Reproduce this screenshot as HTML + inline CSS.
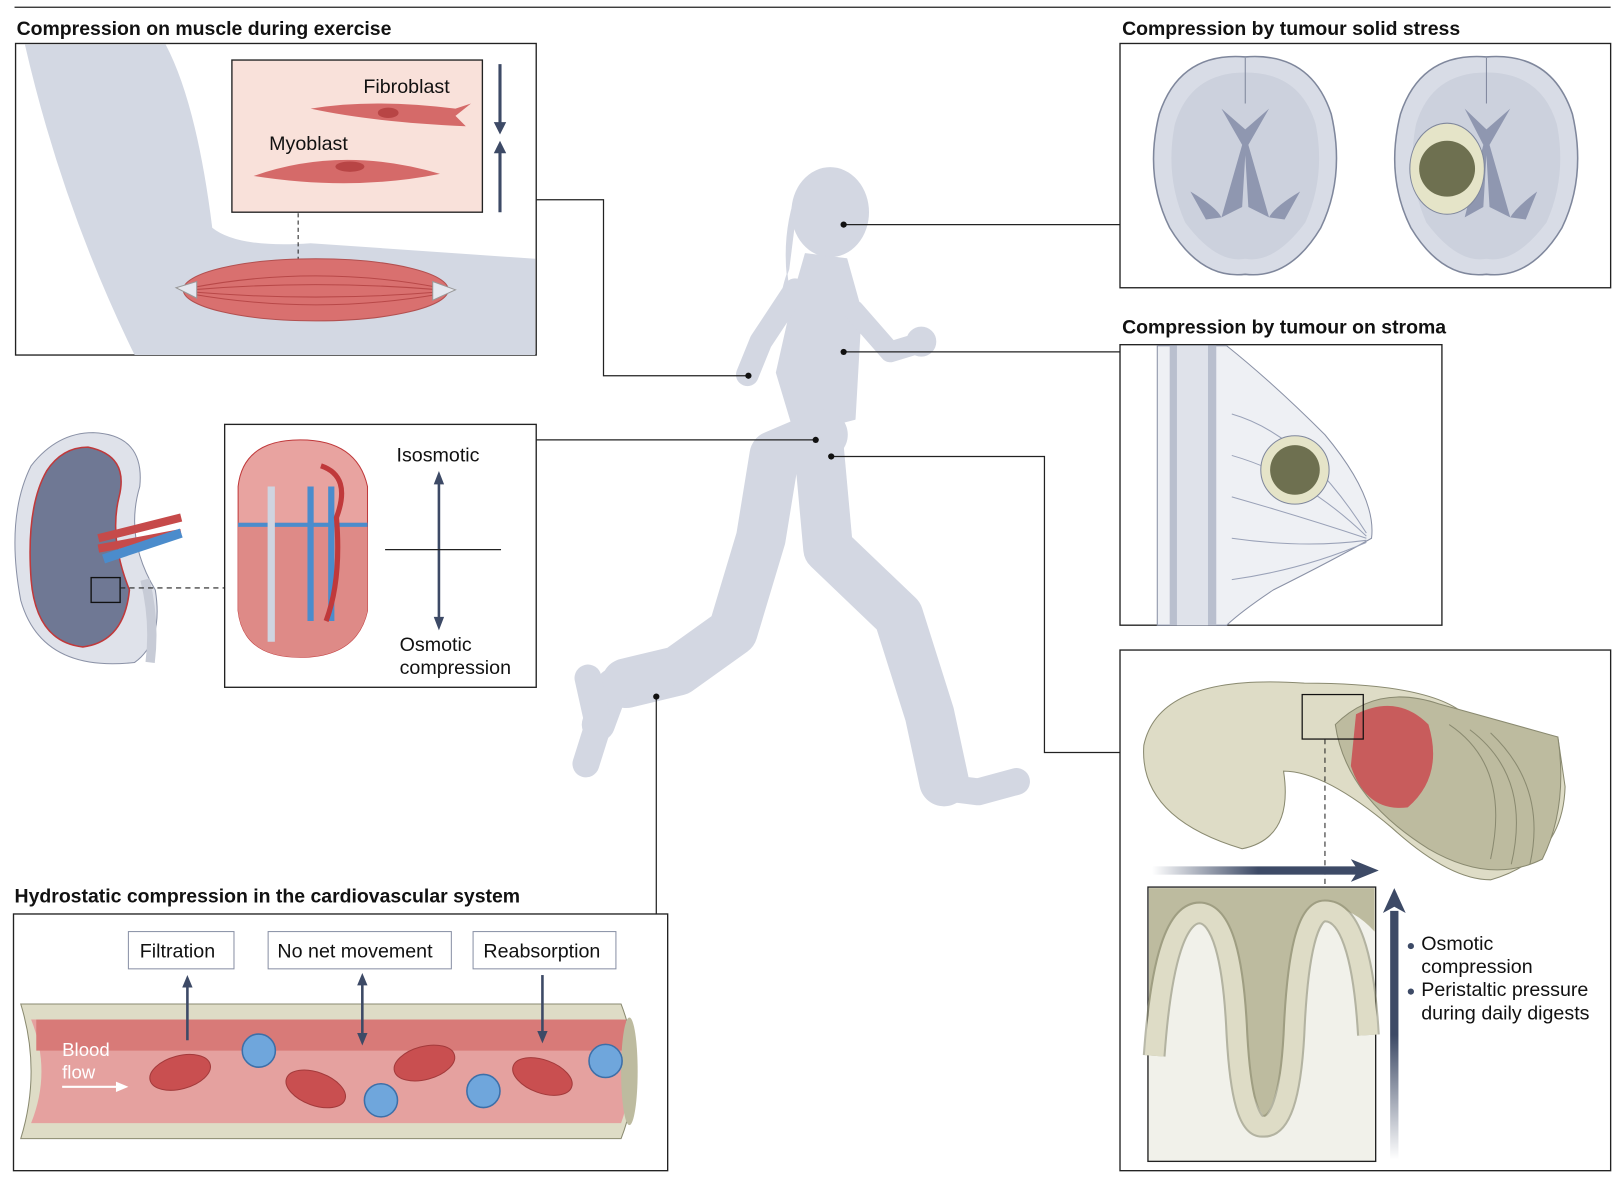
<!DOCTYPE html>
<html><head><meta charset="utf-8">
<style>
html,body{margin:0;padding:0;background:#fff;}
svg{display:block;}
text{font-family:"Liberation Sans",sans-serif;}
.t{font-weight:bold;font-size:18.8px;fill:#111;}
.l{font-size:19px;fill:#111;}
</style></head><body>
<svg width="1620" height="1180" viewBox="0 0 1565 1140" xmlns="http://www.w3.org/2000/svg">
<defs>
<linearGradient id="ga" x1="0" x2="1" y1="0" y2="0"><stop offset="0" stop-color="#3d4a66" stop-opacity="0"/><stop offset="0.5" stop-color="#3d4a66"/></linearGradient>
<linearGradient id="gv" x1="0" x2="0" y1="1" y2="0"><stop offset="0" stop-color="#3d4a66" stop-opacity="0"/><stop offset="0.5" stop-color="#3d4a66"/></linearGradient>
</defs>
<line x1="14" y1="7" x2="1556" y2="7" stroke="#222" stroke-width="1.3"/>

<!-- Runner -->
<g fill="#d3d7e2" stroke="#d3d7e2" stroke-linecap="round" stroke-linejoin="round">
<ellipse cx="802" cy="205" rx="37" ry="43"/>
<path d="M772 180 Q752 230 764 290 Q748 300 762 260 Z"/>
<path d="M778 245 L818 250 L832 300 L826 405 L768 420 L750 360 L768 280 Z"/>
<path d="M768 280 L735 330 L722 362" fill="none" stroke-width="22"/>
<path d="M825 300 L860 340 L893 330" fill="none" stroke-width="20"/>
<path d="M795 420 L748 440 L735 520 L708 610 L655 648 L605 660" fill="none" stroke-width="48"/>
<path d="M640 650 L592 662 L578 700" fill="none" stroke-width="32"/>
<path d="M568 655 L578 700 L566 738" fill="none" stroke-width="26"/>
<path d="M790 420 L800 530 L868 595 L898 690 L912 755" fill="none" stroke-width="48"/>
<path d="M905 760 L945 765 L982 755" fill="none" stroke-width="26"/>
<circle cx="890" cy="330" r="14"/>
</g>

<!-- Muscle panel -->
<text class="t" x="16" y="34">Compression on muscle during exercise</text>
<rect x="15" y="42" width="503" height="301" fill="#fff" stroke="#222" stroke-width="1.3"/>
<path d="M24 43 L160 43 Q190 100 205 220 Q230 240 300 235 L517 250 L517 343 L130 343 Q60 200 24 43 Z" fill="#d3d8e3"/>
<rect x="224" y="58" width="242" height="147" fill="#f9e1da" stroke="#222" stroke-width="1.3"/>
<path d="M300 105 Q360 95 440 105 L455 100 L440 112 L450 122 Q360 118 300 105 Z" fill="#d56a69"/>
<ellipse cx="375" cy="109" rx="10" ry="5" fill="#b84545"/>
<path d="M245 170 Q330 140 425 168 Q340 185 245 170 Z" fill="#d56a69"/>
<ellipse cx="338" cy="161" rx="14" ry="5" fill="#b84545"/>
<text class="l" x="351" y="90">Fibroblast</text>
<text class="l" x="260" y="145">Myoblast</text>
<line x1="288" y1="206" x2="288" y2="270" stroke="#222" stroke-dasharray="4,3"/>
<ellipse cx="305" cy="280" rx="128" ry="30" fill="#d9706f" stroke="#b25050"/>
<g stroke="#b84848" fill="none" stroke-width="1">
<path d="M185 278 Q305 255 425 278"/><path d="M185 280 Q305 270 425 280"/><path d="M185 282 Q305 292 425 282"/><path d="M185 284 Q305 305 425 284"/>
</g>
<path d="M170 278 L190 272 L190 288 Z M440 280 L418 272 L418 290 Z" fill="#e4e7ee" stroke="#999"/>
<line x1="483" y1="62" x2="483" y2="125" stroke="#3d4a66" stroke-width="3"/>
<path d="M477 118 L483 130 L489 118 Z" fill="#3d4a66"/>
<line x1="483" y1="205" x2="483" y2="143" stroke="#3d4a66" stroke-width="3"/>
<path d="M477 148 L483 136 L489 148 Z" fill="#3d4a66"/>
<polyline points="518,193 583,193 583,363 723,363" fill="none" stroke="#222" stroke-width="1.2"/>
<circle cx="723" cy="363" r="3" fill="#111"/>

<!-- Kidney -->
<path d="M90 418 Q140 420 135 470 Q120 520 150 570 Q158 620 130 640 Q40 650 20 580 Q5 500 30 450 Q55 418 90 418 Z" fill="#dfe2ea" stroke="#8a91a6"/>
<path d="M85 432 Q125 440 115 480 Q105 520 125 570 Q120 620 80 625 Q35 620 30 560 Q25 490 45 455 Q60 432 85 432 Z" fill="#6f7894" stroke="#c0393b" stroke-width="1.5"/>
<path d="M95 520 L175 500 M95 530 L175 515" stroke="#c64a4a" stroke-width="8"/>
<path d="M100 540 L175 515" stroke="#4b8ccc" stroke-width="9"/>
<path d="M140 560 Q150 600 145 640" stroke="#c7cbd6" stroke-width="9" fill="none"/>
<rect x="88" y="558" width="28" height="24" fill="none" stroke="#111" stroke-width="1.3"/>
<line x1="116" y1="568" x2="217" y2="568" stroke="#222" stroke-dasharray="5,4"/>
<rect x="217" y="410" width="301" height="254" fill="#fff" stroke="#222" stroke-width="1.3"/>
<path d="M290 425 Q345 425 355 470 L355 590 Q345 635 290 635 Q235 635 230 590 L230 470 Q235 425 290 425 Z" fill="#e8a3a0" stroke="#c0393b"/>
<path d="M230 505 L355 505 L355 590 Q345 635 290 635 Q235 635 230 590 Z" fill="#de8a87"/>
<line x1="230" y1="507" x2="355" y2="507" stroke="#4b8ccc" stroke-width="4"/>
<path d="M300 470 L300 600 M320 470 L320 600" stroke="#4b8ccc" stroke-width="6" fill="none"/>
<path d="M310 450 Q340 460 325 500 Q330 560 315 600" stroke="#c0393b" stroke-width="5" fill="none"/>
<path d="M262 470 L262 620" stroke="#cfd4e0" stroke-width="7"/>
<text class="l" x="383" y="446">Isosmotic</text>
<line x1="424" y1="460" x2="424" y2="600" stroke="#3d4a66" stroke-width="2.5"/>
<path d="M419 468 L424 455 L429 468 Z M419 596 L424 609 L429 596 Z" fill="#3d4a66"/>
<line x1="372" y1="531" x2="484" y2="531" stroke="#222" stroke-width="1.2"/>
<text class="l" x="386" y="629">Osmotic</text>
<text class="l" x="386" y="651">compression</text>
<line x1="518" y1="425" x2="788" y2="425" stroke="#222" stroke-width="1.2"/>
<circle cx="788" cy="425" r="3" fill="#111"/>

<!-- Brain -->
<text class="t" x="1084" y="34">Compression by tumour solid stress</text>
<rect x="1082" y="42" width="474" height="236" fill="#fff" stroke="#222" stroke-width="1.3"/>
<g fill="#d8dce6" stroke="#7f879c" stroke-width="1.5">
<path d="M1203 55 Q1140 50 1120 110 Q1105 170 1130 220 Q1160 270 1203 265 Q1246 270 1276 220 Q1300 170 1286 110 Q1266 50 1203 55 Z"/>
<path d="M1436 55 Q1373 50 1353 110 Q1338 170 1363 220 Q1393 270 1436 265 Q1479 270 1509 220 Q1533 170 1519 110 Q1499 50 1436 55 Z"/>
</g>
<g fill="#bfc5d4">
<path d="M1203 70 Q1150 70 1135 120 Q1125 170 1145 215 Q1175 255 1203 250 Q1231 255 1261 215 Q1281 170 1271 120 Q1256 70 1203 70 Z" opacity="0.5"/>
<path d="M1436 70 Q1383 70 1368 120 Q1358 170 1378 215 Q1408 255 1436 250 Q1464 255 1494 215 Q1514 170 1504 120 Q1489 70 1436 70 Z" opacity="0.5"/>
</g>
<g fill="#8f97b0">
<path d="M1180 105 L1200 140 L1180 210 L1200 200 L1203 150 L1206 200 L1226 210 L1206 140 L1226 105 L1203 125 Z"/>
<path d="M1415 105 L1433 140 L1415 210 L1433 200 L1436 150 L1439 200 L1459 210 L1439 140 L1459 105 L1436 125 Z"/>
<path d="M1150 185 Q1175 200 1180 210 L1165 212 Z M1256 185 Q1231 200 1226 210 L1241 212 Z M1485 185 Q1465 200 1459 210 L1474 212 Z"/>
</g>
<line x1="1203" y1="56" x2="1203" y2="100" stroke="#7f879c"/><line x1="1436" y1="56" x2="1436" y2="100" stroke="#7f879c"/>
<ellipse cx="1398" cy="163" rx="36" ry="44" fill="#e5e4c8" stroke="#7f879c"/>
<circle cx="1398" cy="163" r="27" fill="#6e7050"/>
<line x1="815" y1="217" x2="1082" y2="217" stroke="#222" stroke-width="1.2"/>
<circle cx="815" cy="217" r="3" fill="#111"/>

<!-- Stroma -->
<text class="t" x="1084" y="322">Compression by tumour on stroma</text>
<rect x="1082" y="333" width="311" height="271" fill="#fff" stroke="#222" stroke-width="1.3"/>
<path d="M1118 334 L1185 334 Q1230 370 1280 420 Q1330 480 1325 520 Q1290 540 1230 570 Q1200 590 1185 604 L1118 604 Z" fill="#eef0f4" stroke="#8a91a6"/>
<rect x="1130" y="334" width="45" height="270" fill="#b9bfce"/>
<rect x="1137" y="334" width="30" height="270" fill="#dfe2ea"/>
<g stroke="#9aa2b8" fill="none" stroke-width="1">
<path d="M1190 400 Q1260 420 1320 515"/><path d="M1190 440 Q1260 460 1320 518"/><path d="M1190 480 Q1260 500 1320 520"/><path d="M1190 520 Q1260 530 1320 522"/><path d="M1190 560 Q1260 550 1320 524"/>
</g>
<circle cx="1251" cy="454" r="33" fill="#e5e4c8" stroke="#7f879c"/>
<circle cx="1251" cy="454" r="24" fill="#6e7050"/>
<line x1="815" y1="340" x2="1082" y2="340" stroke="#222" stroke-width="1.2"/>
<circle cx="815" cy="340" r="3" fill="#111"/>

<!-- Gut -->
<rect x="1082" y="628" width="474" height="503" fill="#fff" stroke="#222" stroke-width="1.3"/>
<path d="M1260 660 Q1120 650 1105 720 Q1100 790 1200 820 Q1250 810 1240 745 Q1280 745 1345 800 Q1400 850 1440 850 Q1510 830 1512 760 L1505 712 L1415 690 Q1380 660 1260 660 Z" fill="#dedcc6" stroke="#8a8a70"/>
<path d="M1290 700 Q1330 660 1390 680 L1505 712 Q1515 780 1490 830 Q1440 855 1380 820 Q1300 770 1290 700 Z" fill="#bdbb9f" stroke="#8a8a70"/>
<g fill="none" stroke="#8a8a70" stroke-width="1"><path d="M1400 700 Q1460 740 1440 830"/><path d="M1420 705 Q1480 750 1460 835"/><path d="M1440 708 Q1495 760 1478 835"/></g>
<path d="M1310 690 Q1350 670 1380 700 Q1395 750 1360 780 Q1320 785 1305 740 Z" fill="#c85c5c"/>
<rect x="1258" y="671" width="59" height="43" fill="none" stroke="#111" stroke-width="1.2"/>
<line x1="1280" y1="714" x2="1280" y2="857" stroke="#222" stroke-dasharray="5,4"/>
<rect x="1113" y="837" width="205" height="8" fill="url(#ga)"/>
<path d="M1305 830 L1332 841 L1305 852 L1312 841 Z" fill="#3d4a66"/>
<rect x="1109" y="857" width="220" height="265" fill="#f1f1ea" stroke="#222" stroke-width="1.3"/>
<path d="M1110 858 L1328 858 L1328 900 Q1300 870 1275 880 Q1255 900 1250 960 Q1240 1050 1222 1080 Q1200 1050 1190 960 Q1180 880 1160 880 Q1130 880 1125 960 L1110 1020 Z" fill="#bdbb9f"/>
<g fill="none" stroke="#8a8a70" stroke-width="22" opacity="0.6">
<path d="M1115 1020 Q1125 880 1160 882 Q1190 885 1195 1000 Q1200 1090 1220 1088 Q1245 1090 1250 1000 Q1255 880 1280 880 Q1315 880 1322 1000"/>
</g>
<g fill="none" stroke="#dedcc6" stroke-width="18">
<path d="M1115 1020 Q1125 880 1160 882 Q1190 885 1195 1000 Q1200 1090 1220 1088 Q1245 1090 1250 1000 Q1255 880 1280 880 Q1315 880 1322 1000"/>
</g>
<rect x="1343" y="880" width="8" height="240" fill="url(#gv)"/>
<path d="M1336 882 L1347 858 L1358 882 L1347 876 Z" fill="#3d4a66"/>
<circle cx="1363" cy="914" r="3" fill="#3d4a66"/><circle cx="1363" cy="958" r="3" fill="#3d4a66"/>
<text class="l" x="1373" y="918">Osmotic</text>
<text class="l" x="1373" y="940">compression</text>
<text class="l" x="1373" y="962">Peristaltic pressure</text>
<text class="l" x="1373" y="985">during daily digests</text>
<polyline points="803,441 1009,441 1009,727 1082,727" fill="none" stroke="#222" stroke-width="1.2"/>
<circle cx="803" cy="441" r="3" fill="#111"/>

<!-- Vessel -->
<text class="t" x="14" y="872">Hydrostatic compression in the cardiovascular system</text>
<rect x="13" y="883" width="632" height="248" fill="#fff" stroke="#222" stroke-width="1.3"/>
<line x1="634" y1="673" x2="634" y2="883" stroke="#222" stroke-width="1.2"/>
<circle cx="634" cy="673" r="3" fill="#111"/>
<rect x="124" y="900" width="102" height="36" fill="#fff" stroke="#8a91a6"/>
<rect x="259" y="900" width="177" height="36" fill="#fff" stroke="#8a91a6"/>
<rect x="457" y="900" width="138" height="36" fill="#fff" stroke="#8a91a6"/>
<text class="l" x="135" y="925">Filtration</text>
<text class="l" x="268" y="925">No net movement</text>
<text class="l" x="467" y="925">Reabsorption</text>
<path d="M20 970 L600 970 Q625 1035 600 1100 L20 1100 Q40 1035 20 970 Z" fill="#dedcc6" stroke="#8a8a70"/>
<path d="M30 985 L600 985 Q618 1035 600 1085 L30 1085 Q50 1035 30 985 Z" fill="#e5a19f"/>
<rect x="35" y="985" width="570" height="30" fill="#d87a78"/>
<ellipse cx="608" cy="1035" rx="8" ry="52" fill="#bdbb9f"/>
<g fill="#c94f50" stroke="#a33a3b">
<ellipse cx="174" cy="1036" rx="30" ry="16" transform="rotate(-15 174 1036)"/>
<ellipse cx="305" cy="1052" rx="30" ry="16" transform="rotate(20 305 1052)"/>
<ellipse cx="410" cy="1027" rx="30" ry="16" transform="rotate(-15 410 1027)"/>
<ellipse cx="524" cy="1040" rx="30" ry="16" transform="rotate(20 524 1040)"/>
</g>
<g fill="#6fa6dc" stroke="#3d6fa8" stroke-width="1.5">
<circle cx="250" cy="1015" r="16"/><circle cx="368" cy="1063" r="16"/><circle cx="467" cy="1054" r="16"/><circle cx="585" cy="1025" r="16"/>
</g>
<g fill="#fff" font-size="18"><text x="60" y="1020">Blood</text><text x="60" y="1042">flow</text></g>
<line x1="60" y1="1050" x2="115" y2="1050" stroke="#fff" stroke-width="2"/>
<path d="M112 1045 L124 1050 L112 1055 Z" fill="#fff"/>
<g stroke="#3d4a66" stroke-width="2.5">
<line x1="181" y1="950" x2="181" y2="1005"/><line x1="350" y1="948" x2="350" y2="1005"/><line x1="524" y1="942" x2="524" y2="1000"/>
</g>
<g fill="#3d4a66">
<path d="M176 954 L181 942 L186 954 Z"/><path d="M345 952 L350 940 L355 952 Z M345 998 L350 1010 L355 998 Z"/><path d="M519 996 L524 1008 L529 996 Z"/>
</g>
</svg>
</body></html>
